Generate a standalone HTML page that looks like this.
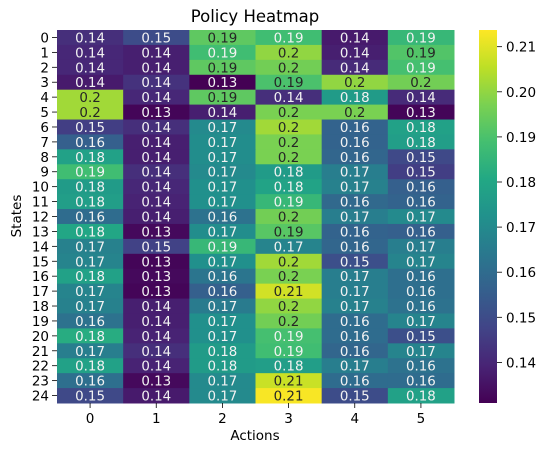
<!DOCTYPE html>
<html><head><meta charset="utf-8"><style>
body{margin:0;background:#fff;font-family:"Liberation Sans","DejaVu Sans",sans-serif}
svg text{font-family:"DejaVu Sans","Liberation Sans",sans-serif}
</style></head><body>
<svg id="chart" width="547" height="453" xmlns="http://www.w3.org/2000/svg">
<defs><linearGradient id="vir" x1="0" y1="1" x2="0" y2="0">
<stop offset="0" stop-color="#440154"/><stop offset="0.1" stop-color="#482475"/><stop offset="0.2" stop-color="#414487"/><stop offset="0.3" stop-color="#355f8d"/><stop offset="0.4" stop-color="#2a788e"/><stop offset="0.5" stop-color="#21918c"/><stop offset="0.6" stop-color="#22a884"/><stop offset="0.7" stop-color="#44bf70"/><stop offset="0.8" stop-color="#7ad151"/><stop offset="0.9" stop-color="#bddf26"/><stop offset="1" stop-color="#fde725"/>
</linearGradient></defs>
<text x="255" y="22" font-size="16.5" text-anchor="middle">Policy Heatmap</text>
<text x="255" y="440" font-size="13.5" text-anchor="middle">Actions</text>
<text x="21" y="216" font-size="13.5" text-anchor="middle" transform="rotate(-90 21 216)">States</text>
<g id="cells"></g>
<g id="axes"></g>
<rect x="479" y="30" width="18" height="373" fill="url(#vir)"/>
<g id="cbar"></g>
</svg>
<script>
const actions=[0,1,2,3,4,5];
const states=[0,1,2,3,4,5,6,7,8,9,10,11,12,13,14,15,16,17,18,19,20,21,22,23,24];
const values=[
[.142,.150,.193,.188,.137,.186],
[.140,.138,.188,.200,.138,.191],
[.140,.138,.193,.196,.141,.189],
[.137,.143,.131,.190,.200,.196],
[.202,.140,.193,.142,.176,.141],
[.202,.132,.138,.197,.197,.132],
[.146,.142,.170,.202,.157,.178],
[.156,.138,.171,.197,.157,.177],
[.178,.138,.171,.197,.158,.149],
[.188,.142,.170,.176,.166,.146],
[.176,.140,.172,.179,.167,.156],
[.177,.139,.172,.186,.159,.157],
[.160,.138,.162,.196,.166,.170],
[.180,.133,.171,.192,.157,.156],
[.167,.147,.186,.168,.158,.166],
[.168,.132,.172,.202,.151,.168],
[.178,.133,.163,.197,.166,.161],
[.168,.132,.156,.208,.166,.161],
[.167,.138,.165,.200,.167,.162],
[.162,.138,.172,.196,.160,.168],
[.182,.139,.172,.189,.160,.151],
[.166,.142,.176,.188,.158,.168],
[.178,.139,.176,.177,.166,.162],
[.161,.133,.170,.207,.160,.160],
[.149,.137,.170,.213,.150,.178]];
const cbarTicks=[0.14,0.15,0.16,0.17,0.18,0.19,0.20,0.21];
const vmin=0.131, vmax=0.2137;
const L=57,R=454,T=30,B=403,CB=479;
const NS="http://www.w3.org/2000/svg";
const cw=(R-L)/actions.length, ch=(B-T)/states.length;
const xPos=i=>L+i*cw, yPos=j=>T+j*ch;
const cbY=v=>B-(v-vmin)/(vmax-vmin)*(B-T);
const stops=["#440154","#482475","#414487","#355f8d","#2a788e","#21918c","#22a884","#44bf70","#7ad151","#bddf26","#fde725"].map(h=>[1,3,5].map(k=>parseInt(h.substr(k,2),16)));
function vir(t){t=Math.max(0,Math.min(1,t))*10;const i=Math.min(9,Math.floor(t)),f=t-i;return stops[i].map((c,k)=>c+(stops[i+1][k]-c)*f);}
function lum(c){const l=c.map(x=>{x/=255;return x<=0.03928?x/12.92:Math.pow((x+0.055)/1.055,2.4)});return .2126*l[0]+.7152*l[1]+.0722*l[2];}
function mk(tag,attrs,parent){const e=document.createElementNS(NS,tag);for(const k in attrs)e.setAttribute(k,attrs[k]);parent.appendChild(e);return e;}
const cells=document.getElementById('cells'),axes=document.getElementById('axes'),cbar=document.getElementById('cbar');
states.forEach((s,j)=>{actions.forEach((a,i)=>{
 const v=values[j][i];const c=vir((v-vmin)/(vmax-vmin));
 const r=mk('rect',{x:xPos(i),y:yPos(j),width:cw+0.5,height:ch+0.5,fill:`rgb(${c.map(Math.round).join(',')})`},cells);
 
 
 const t=mk('text',{x:xPos(i)+cw/2,y:yPos(j)+ch/2+5,'font-size':'13.4','text-anchor':'middle',fill:lum(c)>0.408?'#262626':'#f2f2f2'},cells);
 t.textContent=String(Number(v.toPrecision(2)));
 
 
});});
actions.forEach((a,i)=>{const x=xPos(i)+cw/2;
 const l=mk('line',{x1:x,x2:x,y1:B,y2:B+5,stroke:'#000','stroke-width':0.8},axes);
 
 
 const t=mk('text',{x:x,y:B+20,'font-size':'13.5','text-anchor':'middle'},axes);t.textContent=a;
 
 });
states.forEach((s,j)=>{const y=yPos(j)+ch/2;
 const l=mk('line',{x1:L-5,x2:L,y1:y,y2:y,stroke:'#000','stroke-width':0.8},axes);
 
 
 const t=mk('text',{x:L-8,y:y+5,'font-size':'13.5','text-anchor':'end'},axes);t.textContent=s;
 
 });
cbarTicks.forEach(v=>{const y=cbY(v);
 const l=mk('line',{x1:CB+18,x2:CB+23,y1:y,y2:y,stroke:'#000','stroke-width':0.8},cbar);
 
 
 const t=mk('text',{x:CB+27,y:y+5,'font-size':'13.5'},cbar);t.textContent=v.toFixed(2);
 
 });
</script>
</body></html>
